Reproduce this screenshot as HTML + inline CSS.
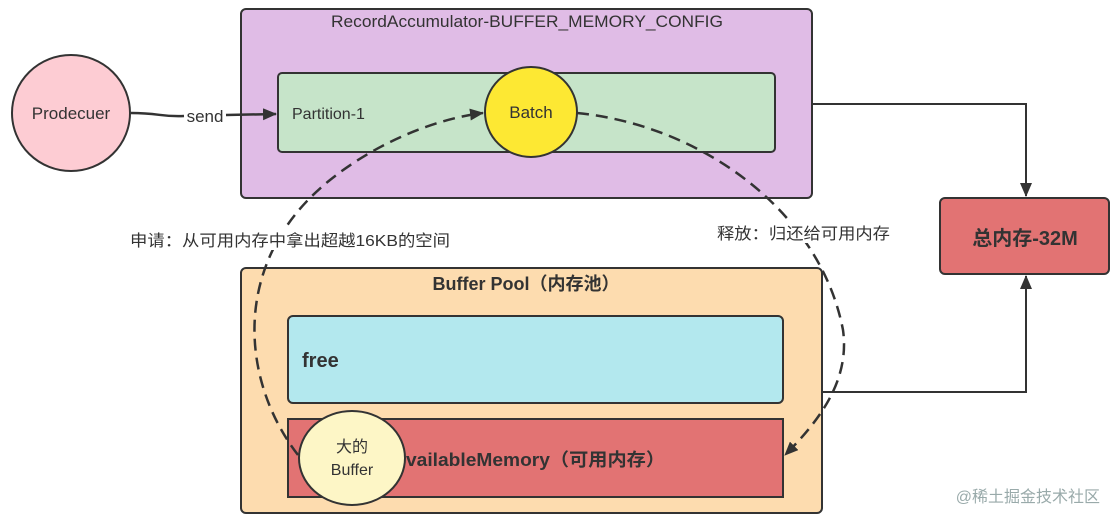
<!DOCTYPE html>
<html><head><meta charset="utf-8"><style>
html,body{margin:0;padding:0;background:#fff;}
svg{display:block;}
text{font-family:"Liberation Sans","Noto Sans CJK SC",sans-serif;fill:#333;}
</style></head><body>
<svg width="1116" height="525" viewBox="0 0 1116 525" xmlns="http://www.w3.org/2000/svg">
<defs>
<marker id="ar2" markerWidth="14" markerHeight="12" refX="13" refY="6" orient="auto" markerUnits="userSpaceOnUse">
<path d="M0,0 L14,6 L0,12 z" fill="#333"/></marker>
</defs>
<rect x="241" y="9" width="571" height="189" rx="5" fill="#e0bce6" stroke="#333" stroke-width="2"/>
<text x="527" y="27" font-size="17" text-anchor="middle" textLength="392" lengthAdjust="spacingAndGlyphs">RecordAccumulator-BUFFER_MEMORY_CONFIG</text>
<rect x="278" y="73" width="497" height="79" rx="4" fill="#c6e4c9" stroke="#333" stroke-width="2"/>
<text x="292" y="119" font-size="16">Partition-1</text>
<rect x="241" y="268" width="581" height="245" rx="5" fill="#fddcaf" stroke="#333" stroke-width="2"/>
<text x="526" y="290" font-size="18" font-weight="bold" text-anchor="middle">Buffer Pool（内存池）</text>
<rect x="288" y="316" width="495" height="87" rx="5" fill="#b3e8ee" stroke="#333" stroke-width="2"/>
<text x="302" y="367" font-size="20" font-weight="bold">free</text>
<rect x="288" y="419" width="495" height="78" fill="#e27373" stroke="#333" stroke-width="2"/>
<text x="406" y="466" font-size="18" font-weight="bold" textLength="259" lengthAdjust="spacingAndGlyphs">vailableMemory（可用内存）</text>
<rect x="940" y="198" width="169" height="76" rx="5" fill="#e27373" stroke="#333" stroke-width="2"/>
<text x="1025" y="245" font-size="20" font-weight="bold" text-anchor="middle">总内存-32M</text>
<polyline points="812,104 1026,104 1026,196" fill="none" stroke="#333" stroke-width="2" marker-end="url(#ar2)"/>
<polyline points="822,392 1026,392 1026,276" fill="none" stroke="#333" stroke-width="2" marker-end="url(#ar2)"/>
<path d="M131,113 C160,113 160,117 184,116" fill="none" stroke="#333" stroke-width="2.5"/>
<line x1="226" y1="115" x2="276" y2="114" stroke="#333" stroke-width="2.5" marker-end="url(#ar2)"/>
<text x="205" y="122" font-size="17" text-anchor="middle">send</text>
<path d="M298,455 C240,380 230,260 330,180 C380,140 440,118 483,113" fill="none" stroke="#333" stroke-width="2.5" stroke-dasharray="12,7" marker-end="url(#ar2)"/>
<path d="M577,113 C700,125 820,210 843,330 C850,380 820,420 785,455" fill="none" stroke="#333" stroke-width="2.5" stroke-dasharray="12,7" marker-end="url(#ar2)"/>
<ellipse cx="71" cy="113" rx="59" ry="58" fill="#fdccd3" stroke="#333" stroke-width="2"/>
<text x="71" y="119" font-size="17" text-anchor="middle">Prodecuer</text>
<ellipse cx="531" cy="112" rx="46" ry="45" fill="#fde833" stroke="#333" stroke-width="2"/>
<text x="531" y="118" font-size="17" text-anchor="middle">Batch</text>
<ellipse cx="352" cy="458" rx="53" ry="47" fill="#fdf6c6" stroke="#333" stroke-width="2"/>
<text x="352" y="452" font-size="16" text-anchor="middle">大的</text>
<text x="352" y="475" font-size="16" text-anchor="middle">Buffer</text>
<rect x="126" y="228" width="330" height="22" fill="#fff"/>
<text x="130" y="246" font-size="16" textLength="320" lengthAdjust="spacingAndGlyphs">申请：从可用内存中拿出超越16KB的空间</text>
<rect x="714" y="221" width="180" height="22" fill="#fff"/>
<text x="717" y="239" font-size="16" textLength="173" lengthAdjust="spacingAndGlyphs">释放：归还给可用内存</text>
<text x="1100" y="502" font-size="16" text-anchor="end" style="fill:#9aa">@稀土掘金技术社区</text>
</svg>
</body></html>
